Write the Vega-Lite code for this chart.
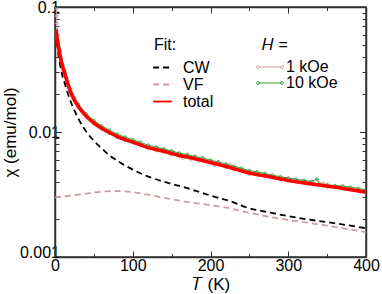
{
  "$schema": "https://vega.github.io/schema/vega-lite/v6.json",
  "width": 311,
  "height": 250,
  "autosize": {"type": "none"},
  "padding": {"left": 55, "top": 7, "right": 16, "bottom": 37},
  "config": {
    "font": "Liberation Sans",
    "view": {"stroke": "#333", "strokeWidth": 1.5},
    "axis": {"grid": false, "domainColor": "#333", "domainWidth": 1.5, "tickColor": "#333", "tickWidth": 1, "labelFontSize": 16, "titleFontSize": 17, "titleFontWeight": "normal", "labelColor": "black", "titleColor": "black"},
    "legend": {"labelFontSize": 16, "titleFontSize": 16, "titleFontWeight": "normal", "labelColor": "black", "titleColor": "black", "padding": 0, "rowPadding": 0, "titlePadding": 6, "labelLimit": 200}
  },
  "datasets": {
    "fit": [
      {"T": 1, "chi": 0.063, "fit": "CW"}, {"T": 2, "chi": 0.056, "fit": "CW"}, {"T": 3, "chi": 0.049, "fit": "CW"}, {"T": 4, "chi": 0.043, "fit": "CW"}, {"T": 6, "chi": 0.036, "fit": "CW"}, {"T": 8, "chi": 0.031, "fit": "CW"}, {"T": 10, "chi": 0.0275, "fit": "CW"}, {"T": 12.5, "chi": 0.0245, "fit": "CW"}, {"T": 15, "chi": 0.0218, "fit": "CW"}, {"T": 20, "chi": 0.0176, "fit": "CW"}, {"T": 25, "chi": 0.0149, "fit": "CW"}, {"T": 30, "chi": 0.0128, "fit": "CW"}, {"T": 40, "chi": 0.0101, "fit": "CW"}, {"T": 50, "chi": 0.0085, "fit": "CW"}, {"T": 60, "chi": 0.0074, "fit": "CW"}, {"T": 70, "chi": 0.0065, "fit": "CW"}, {"T": 80, "chi": 0.0059, "fit": "CW"}, {"T": 90, "chi": 0.0054, "fit": "CW"}, {"T": 100, "chi": 0.005, "fit": "CW"}, {"T": 120, "chi": 0.0044, "fit": "CW"}, {"T": 140, "chi": 0.004, "fit": "CW"}, {"T": 160, "chi": 0.0037, "fit": "CW"}, {"T": 180, "chi": 0.0034, "fit": "CW"}, {"T": 200, "chi": 0.0031, "fit": "CW"}, {"T": 225, "chi": 0.0028, "fit": "CW"}, {"T": 250, "chi": 0.00245, "fit": "CW"}, {"T": 275, "chi": 0.00228, "fit": "CW"}, {"T": 300, "chi": 0.00212, "fit": "CW"}, {"T": 325, "chi": 0.002, "fit": "CW"}, {"T": 350, "chi": 0.0019, "fit": "CW"}, {"T": 375, "chi": 0.0018, "fit": "CW"}, {"T": 400, "chi": 0.0017, "fit": "CW"},
      {"T": 0, "chi": 0.003, "fit": "VF"}, {"T": 20, "chi": 0.0031, "fit": "VF"}, {"T": 40, "chi": 0.00322, "fit": "VF"}, {"T": 60, "chi": 0.00333, "fit": "VF"}, {"T": 80, "chi": 0.00337, "fit": "VF"}, {"T": 100, "chi": 0.0033, "fit": "VF"}, {"T": 120, "chi": 0.00315, "fit": "VF"}, {"T": 140, "chi": 0.00298, "fit": "VF"}, {"T": 160, "chi": 0.00283, "fit": "VF"}, {"T": 180, "chi": 0.0027, "fit": "VF"}, {"T": 200, "chi": 0.0026, "fit": "VF"}, {"T": 225, "chi": 0.00245, "fit": "VF"}, {"T": 250, "chi": 0.00226, "fit": "VF"}, {"T": 275, "chi": 0.0021, "fit": "VF"}, {"T": 300, "chi": 0.00198, "fit": "VF"}, {"T": 325, "chi": 0.00188, "fit": "VF"}, {"T": 350, "chi": 0.00178, "fit": "VF"}, {"T": 375, "chi": 0.00168, "fit": "VF"}, {"T": 400, "chi": 0.00158, "fit": "VF"},
      {"T": 1, "chi": 0.066, "fit": "total"}, {"T": 2, "chi": 0.06, "fit": "total"}, {"T": 3, "chi": 0.055, "fit": "total"}, {"T": 4, "chi": 0.05, "fit": "total"}, {"T": 6, "chi": 0.0426, "fit": "total"}, {"T": 8, "chi": 0.037, "fit": "total"}, {"T": 10, "chi": 0.033, "fit": "total"}, {"T": 12.5, "chi": 0.0295, "fit": "total"}, {"T": 15, "chi": 0.026, "fit": "total"}, {"T": 20, "chi": 0.021, "fit": "total"}, {"T": 25, "chi": 0.018, "fit": "total"}, {"T": 30, "chi": 0.016, "fit": "total"}, {"T": 40, "chi": 0.0134, "fit": "total"}, {"T": 50, "chi": 0.0118, "fit": "total"}, {"T": 60, "chi": 0.0107, "fit": "total"}, {"T": 70, "chi": 0.0099, "fit": "total"}, {"T": 80, "chi": 0.0092, "fit": "total"}, {"T": 90, "chi": 0.0087, "fit": "total"}, {"T": 100, "chi": 0.0083, "fit": "total"}, {"T": 120, "chi": 0.0075, "fit": "total"}, {"T": 140, "chi": 0.007, "fit": "total"}, {"T": 160, "chi": 0.0065, "fit": "total"}, {"T": 180, "chi": 0.0061, "fit": "total"}, {"T": 200, "chi": 0.0057, "fit": "total"}, {"T": 225, "chi": 0.0052, "fit": "total"}, {"T": 250, "chi": 0.0047, "fit": "total"}, {"T": 275, "chi": 0.0044, "fit": "total"}, {"T": 300, "chi": 0.0041, "fit": "total"}, {"T": 325, "chi": 0.00388, "fit": "total"}, {"T": 350, "chi": 0.0037, "fit": "total"}, {"T": 375, "chi": 0.0035, "fit": "total"}, {"T": 400, "chi": 0.0033, "fit": "total"}
    ],
    "meas": [
      {"T": 1.8, "chi": 0.098, "H": "1 kOe"}, {"T": 2.2, "chi": 0.085, "H": "1 kOe"}, {"T": 2.7, "chi": 0.074, "H": "1 kOe"}, {"T": 3.5, "chi": 0.062, "H": "1 kOe"}, {"T": 4.5, "chi": 0.053, "H": "1 kOe"}, {"T": 6, "chi": 0.0445, "H": "1 kOe"}, {"T": 8, "chi": 0.0375, "H": "1 kOe"}, {"T": 10, "chi": 0.0332, "H": "1 kOe"}, {"T": 12.5, "chi": 0.0294, "H": "1 kOe"}, {"T": 15, "chi": 0.0259, "H": "1 kOe"}, {"T": 20, "chi": 0.0209, "H": "1 kOe"}, {"T": 25, "chi": 0.0179, "H": "1 kOe"}, {"T": 30, "chi": 0.0159, "H": "1 kOe"}, {"T": 40, "chi": 0.0133, "H": "1 kOe"}, {"T": 50, "chi": 0.0117, "H": "1 kOe"}, {"T": 60, "chi": 0.0106, "H": "1 kOe"}, {"T": 70, "chi": 0.0098, "H": "1 kOe"}, {"T": 80, "chi": 0.0091, "H": "1 kOe"}, {"T": 90, "chi": 0.0086, "H": "1 kOe"}, {"T": 100, "chi": 0.0082, "H": "1 kOe"}, {"T": 110, "chi": 0.0078, "H": "1 kOe"}, {"T": 120, "chi": 0.0074, "H": "1 kOe"}, {"T": 130, "chi": 0.0071, "H": "1 kOe"}, {"T": 140, "chi": 0.0069, "H": "1 kOe"}, {"T": 150, "chi": 0.0066, "H": "1 kOe"}, {"T": 160, "chi": 0.0064, "H": "1 kOe"}, {"T": 165, "chi": 0.0062, "H": "1 kOe"}, {"T": 170, "chi": 0.0066, "H": "1 kOe"}, {"T": 175, "chi": 0.006, "H": "1 kOe"}, {"T": 180, "chi": 0.0064, "H": "1 kOe"}, {"T": 185, "chi": 0.0059, "H": "1 kOe"}, {"T": 190, "chi": 0.0062, "H": "1 kOe"}, {"T": 200, "chi": 0.0056, "H": "1 kOe"}, {"T": 205, "chi": 0.0054, "H": "1 kOe"}, {"T": 210, "chi": 0.0058, "H": "1 kOe"}, {"T": 220, "chi": 0.0052, "H": "1 kOe"}, {"T": 225, "chi": 0.0055, "H": "1 kOe"}, {"T": 230, "chi": 0.005, "H": "1 kOe"}, {"T": 240, "chi": 0.0049, "H": "1 kOe"}, {"T": 250, "chi": 0.0046, "H": "1 kOe"}, {"T": 260, "chi": 0.00455, "H": "1 kOe"}, {"T": 270, "chi": 0.00442, "H": "1 kOe"}, {"T": 280, "chi": 0.0043, "H": "1 kOe"}, {"T": 290, "chi": 0.0042, "H": "1 kOe"}, {"T": 300, "chi": 0.00405, "H": "1 kOe"}, {"T": 310, "chi": 0.004, "H": "1 kOe"}, {"T": 320, "chi": 0.0039, "H": "1 kOe"}, {"T": 330, "chi": 0.00383, "H": "1 kOe"}, {"T": 340, "chi": 0.0038, "H": "1 kOe"}, {"T": 345, "chi": 0.0039, "H": "1 kOe"}, {"T": 350, "chi": 0.0036, "H": "1 kOe"}, {"T": 355, "chi": 0.00365, "H": "1 kOe"}, {"T": 360, "chi": 0.0036, "H": "1 kOe"}, {"T": 370, "chi": 0.0035, "H": "1 kOe"}, {"T": 380, "chi": 0.00345, "H": "1 kOe"}, {"T": 390, "chi": 0.00337, "H": "1 kOe"}, {"T": 400, "chi": 0.00329, "H": "1 kOe"},
      {"T": 1, "chi": 0.057, "H": "10 kOe"}, {"T": 2, "chi": 0.056, "H": "10 kOe"}, {"T": 3, "chi": 0.054, "H": "10 kOe"}, {"T": 4, "chi": 0.051, "H": "10 kOe"}, {"T": 5, "chi": 0.048, "H": "10 kOe"}, {"T": 6, "chi": 0.0445, "H": "10 kOe"}, {"T": 8, "chi": 0.0387, "H": "10 kOe"}, {"T": 10, "chi": 0.0345, "H": "10 kOe"}, {"T": 12.5, "chi": 0.0308, "H": "10 kOe"}, {"T": 15, "chi": 0.0272, "H": "10 kOe"}, {"T": 20, "chi": 0.0219, "H": "10 kOe"}, {"T": 25, "chi": 0.0188, "H": "10 kOe"}, {"T": 30, "chi": 0.0167, "H": "10 kOe"}, {"T": 40, "chi": 0.014, "H": "10 kOe"}, {"T": 50, "chi": 0.01233, "H": "10 kOe"}, {"T": 60, "chi": 0.01118, "H": "10 kOe"}, {"T": 70, "chi": 0.01035, "H": "10 kOe"}, {"T": 80, "chi": 0.00961, "H": "10 kOe"}, {"T": 90, "chi": 0.00909, "H": "10 kOe"}, {"T": 100, "chi": 0.00867, "H": "10 kOe"}, {"T": 110, "chi": 0.00826, "H": "10 kOe"}, {"T": 120, "chi": 0.00784, "H": "10 kOe"}, {"T": 130, "chi": 0.00758, "H": "10 kOe"}, {"T": 140, "chi": 0.00732, "H": "10 kOe"}, {"T": 150, "chi": 0.00705, "H": "10 kOe"}, {"T": 160, "chi": 0.00679, "H": "10 kOe"}, {"T": 170, "chi": 0.00658, "H": "10 kOe"}, {"T": 180, "chi": 0.00637, "H": "10 kOe"}, {"T": 190, "chi": 0.00617, "H": "10 kOe"}, {"T": 200, "chi": 0.00596, "H": "10 kOe"}, {"T": 210, "chi": 0.00575, "H": "10 kOe"}, {"T": 220, "chi": 0.00554, "H": "10 kOe"}, {"T": 230, "chi": 0.00533, "H": "10 kOe"}, {"T": 240, "chi": 0.00512, "H": "10 kOe"}, {"T": 250, "chi": 0.00491, "H": "10 kOe"}, {"T": 260, "chi": 0.00479, "H": "10 kOe"}, {"T": 270, "chi": 0.00466, "H": "10 kOe"}, {"T": 280, "chi": 0.00451, "H": "10 kOe"}, {"T": 290, "chi": 0.00439, "H": "10 kOe"}, {"T": 300, "chi": 0.00428, "H": "10 kOe"}, {"T": 310, "chi": 0.00418, "H": "10 kOe"}, {"T": 320, "chi": 0.00411, "H": "10 kOe"}, {"T": 330, "chi": 0.00402, "H": "10 kOe"}, {"T": 337, "chi": 0.0042, "H": "10 kOe"}, {"T": 340, "chi": 0.00386, "H": "10 kOe"}, {"T": 345, "chi": 0.00372, "H": "10 kOe"}, {"T": 350, "chi": 0.0038, "H": "10 kOe"}, {"T": 355, "chi": 0.00368, "H": "10 kOe"}, {"T": 360, "chi": 0.00372, "H": "10 kOe"}, {"T": 370, "chi": 0.0037, "H": "10 kOe"}, {"T": 380, "chi": 0.00362, "H": "10 kOe"}, {"T": 390, "chi": 0.00353, "H": "10 kOe"}, {"T": 400, "chi": 0.00345, "H": "10 kOe"}
    ]
  },
  "resolve": {
    "scale": {"color": "independent", "strokeDash": "independent", "strokeWidth": "independent"},
    "legend": {"color": "independent", "strokeDash": "independent", "strokeWidth": "independent"},
    "axis": {"x": "independent", "y": "independent"}
  },
  "layer": [
    {
      "data": {"name": "meas"},
      "mark": {"type": "line", "strokeWidth": 1, "clip": true, "point": {"filled": false, "size": 8, "strokeWidth": 0.8}},
      "encoding": {
        "x": {"field": "T", "type": "quantitative", "scale": {"domain": [0, 400], "nice": false},
          "axis": {"orient": "bottom", "title": "𝑇 (K)", "values": [0, 50, 100, 150, 200, 250, 300, 350, 400],
            "labelExpr": "datum.value % 100 == 0 ? datum.label : ''",
            "tickSize": {"condition": {"test": "datum.value % 100 == 0", "value": -6}, "value": -3.5},
            "labelPadding": 6, "titleBaseline": "alphabetic", "titleY": 32, "labelFlush": false}},
        "y": {"field": "chi", "type": "quantitative", "scale": {"type": "log", "domain": [0.001, 0.1], "nice": false},
          "axis": {"orient": "left", "title": "χ (emu/mol)", "format": "~g",
            "values": [0.001, 0.002, 0.003, 0.004, 0.005, 0.006, 0.007, 0.008, 0.009, 0.01, 0.02, 0.03, 0.04, 0.05, 0.06, 0.07, 0.08, 0.09, 0.1],
            "labelExpr": "datum.value > 0.099 || (datum.value > 0.0099 && datum.value < 0.0101) || datum.value < 0.00101 ? datum.label : ''",
            "tickSize": {"condition": {"test": "datum.value > 0.099 || (datum.value > 0.0099 && datum.value < 0.0101) || datum.value < 0.00101", "value": -6.5}, "value": -4},
            "labelOffset": {"condition": {"test": "datum.value < 0.00101", "value": -5}, "value": 0},
            "labelPadding": 2, "titleX": -36, "labelFlush": false}},
        "color": {"field": "H", "type": "nominal", "scale": {"domain": ["1 kOe", "10 kOe"], "range": ["#cfa3a3", "#2f9a2f"]},
          "legend": {"orient": "none", "legendX": 207, "legendY": 30, "title": "𝐻 =",
            "symbolType": "M-1.6,0L1.6,0M-1.4,0A0.2,0.2 0 1,0 -1.8,0A0.2,0.2 0 1,0 -1.4,0M1.8,0A0.2,0.2 0 1,0 1.4,0A0.2,0.2 0 1,0 1.8,0",
            "symbolSize": 225, "symbolStrokeWidth": 1, "symbolFillColor": "white", "labelOffset": 8}}
      }
    },
    {
      "data": {"name": "fit"},
      "mark": {"type": "line", "clip": true, "interpolate": "monotone"},
      "encoding": {
        "x": {"field": "T", "type": "quantitative", "scale": {"domain": [0, 400], "nice": false}, "axis": null},
        "y": {"field": "chi", "type": "quantitative", "scale": {"type": "log", "domain": [0.001, 0.1], "nice": false}, "axis": null},
        "color": {"field": "fit", "type": "nominal", "scale": {"domain": ["CW", "VF", "total"], "range": ["#000000", "#c9a0a0", "#ff0000"]},
          "legend": {"orient": "none", "legendX": 99, "legendY": 30, "title": "Fit:", "symbolType": "M-1.25,0L1.25,0", "symbolSize": 225, "labelOffset": 12}},
        "strokeDash": {"field": "fit", "type": "nominal", "scale": {"domain": ["CW", "VF", "total"], "range": [[6, 4], [6, 4], [3000, 1]]},
          "legend": {"orient": "none", "legendX": 99, "legendY": 30, "title": "Fit:", "symbolType": "M-1.25,0L1.25,0", "symbolSize": 225, "labelOffset": 12}},
        "strokeWidth": {"field": "fit", "type": "nominal", "scale": {"domain": ["CW", "VF", "total"], "range": [1.8, 1.8, 3.6]},
          "legend": {"orient": "none", "legendX": 99, "legendY": 30, "title": "Fit:", "symbolType": "M-1.25,0L1.25,0", "symbolSize": 225, "labelOffset": 12}}
      }
    },
    {
      "data": {"name": "fit"},
      "transform": [{"filter": "datum.fit == 'total'"}],
      "mark": {"type": "line", "clip": true, "interpolate": "monotone", "color": "#ff0000", "strokeWidth": 3.6},
      "encoding": {
        "x": {"field": "T", "type": "quantitative", "scale": {"domain": [0, 400], "nice": false}, "axis": null},
        "y": {"field": "chi", "type": "quantitative", "scale": {"type": "log", "domain": [0.001, 0.1], "nice": false}, "axis": null}
      }
    },
    {
      "data": {"name": "fit"},
      "mark": {"type": "point", "opacity": 0},
      "encoding": {
        "x": {"field": "T", "type": "quantitative", "scale": {"domain": [0, 400], "nice": false},
          "axis": {"orient": "top", "title": null, "labels": false, "values": [0, 50, 100, 150, 200, 250, 300, 350, 400],
            "tickSize": {"condition": {"test": "datum.value % 100 == 0", "value": -6}, "value": -3.5}}},
        "y": {"field": "chi", "type": "quantitative", "scale": {"type": "log", "domain": [0.001, 0.1], "nice": false},
          "axis": {"orient": "right", "title": null, "labels": false,
            "values": [0.001, 0.002, 0.003, 0.004, 0.005, 0.006, 0.007, 0.008, 0.009, 0.01, 0.02, 0.03, 0.04, 0.05, 0.06, 0.07, 0.08, 0.09, 0.1],
            "tickSize": {"condition": {"test": "datum.value > 0.099 || (datum.value > 0.0099 && datum.value < 0.0101) || datum.value < 0.00101", "value": -6.5}, "value": -4}}}
      }
    }
  ]
}
